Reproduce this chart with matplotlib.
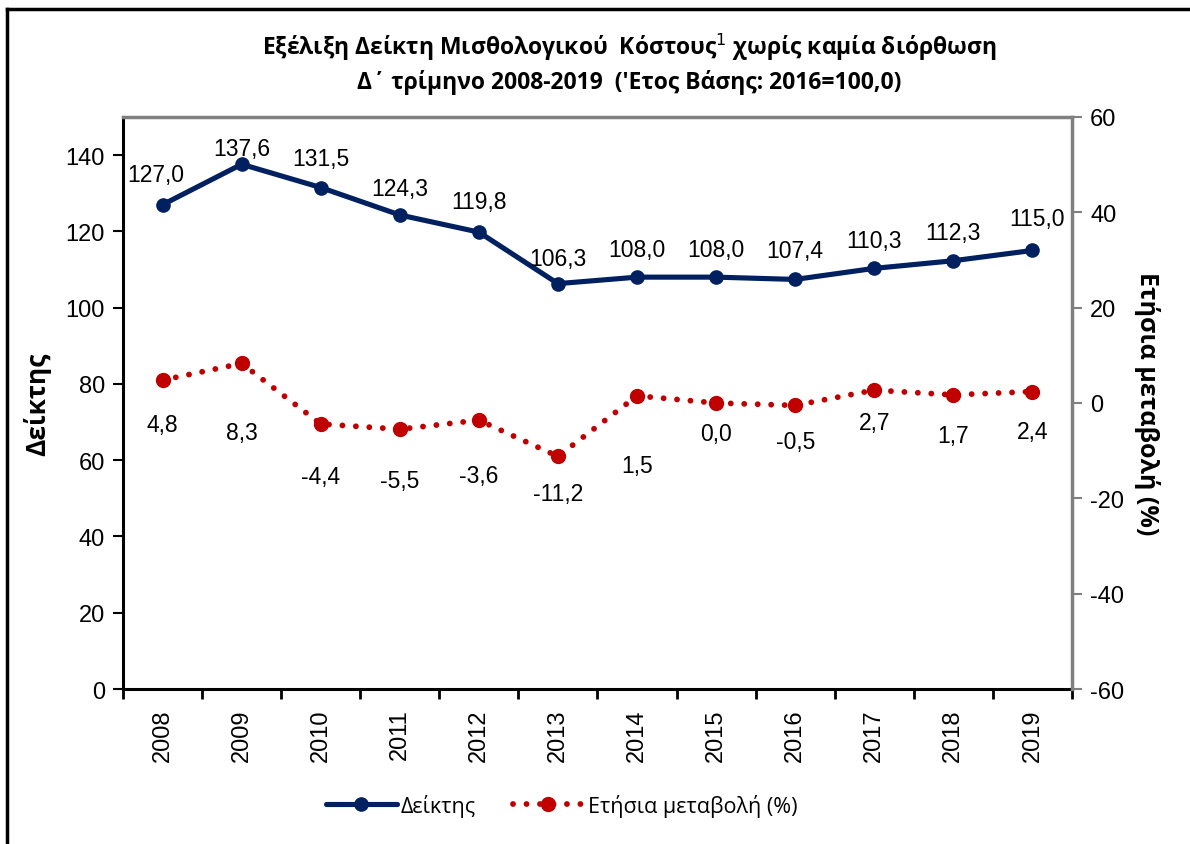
import matplotlib
matplotlib.use("Agg")
import matplotlib.pyplot as plt
from matplotlib.lines import Line2D
import numpy as np

plt.rcParams['font.family'] = ['Liberation Sans', 'DejaVu Sans']
plt.rcParams['axes.unicode_minus'] = False

# -----------------------------
# Data
# -----------------------------
years = ["2008", "2009", "2010", "2011", "2012", "2013",
         "2014", "2015", "2016", "2017", "2018", "2019"]
index_values = [127.0, 137.6, 131.5, 124.3, 119.8, 106.3,
                108.0, 108.0, 107.4, 110.3, 112.3, 115.0]
annual_change = [4.8, 8.3, -4.4, -5.5, -3.6, -11.2,
                 1.5, 0.0, -0.5, 2.7, 1.7, 2.4]

# label offsets (points) relative to each marker
change_label_dy = [-32, -50, -38, -37, -40, -27, -50, -22, -26, -23, -29, -29]
index_label_dy = [22, 11, 21, 19, 22, 18, 20, 20, 21, 20, 20, 23]
index_label_dx = [-5, 0, 0, 0, 0, 0, 0, 0, 0, 0, 0, 3]

navy = "#002060"
red = "#C00000"
title_font = ['Open Sans', 'DejaVu Sans']


def fmt(v):
    return f"{v:.1f}".replace(".", ",")


fig = plt.figure(figsize=(11.9, 8.45), dpi=100)
ax = fig.add_axes([0.1034, 0.1834, 0.7974, 0.677])
ax2 = ax.twinx()

x = np.arange(len(years))

ax.plot(x, index_values, color=navy, lw=3.7, marker="o", ms=9.5,
        solid_capstyle="round", zorder=3)
ax2.plot(x, annual_change, color=red, lw=4.2, linestyle=(0, (0.01, 2.3)),
         dash_capstyle="round", marker="o", ms=10, zorder=3)

for i, v in enumerate(index_values):
    ax.annotate(fmt(v), (x[i], v), xytext=(index_label_dx[i], index_label_dy[i]),
                textcoords="offset points", ha="center", va="center",
                fontsize=16.5)
for i, v in enumerate(annual_change):
    ax2.annotate(fmt(v), (x[i], v), xytext=(0, change_label_dy[i]),
                 textcoords="offset points", ha="center", va="center",
                 fontsize=16.5)

# axes ranges and ticks
ax.set_xlim(-0.5, len(years) - 0.5)
ax.set_ylim(0, 150)
ax.set_yticks(range(0, 141, 20))
ax2.set_ylim(-60, 60)
ax2.set_yticks(range(-60, 61, 20))

ax.set_xticks(x)
ax.set_xticklabels(years, rotation=90, fontsize=17)
ax.set_xticks(np.arange(-0.5, len(years), 1), minor=True)
ax.tick_params(axis="x", which="major", length=0, pad=14)
ax.tick_params(axis="x", which="minor", length=7, width=2, direction="out")
ax.tick_params(axis="y", labelsize=17, length=7, width=1.5, direction="out", pad=6)
ax2.tick_params(axis="y", labelsize=17, length=7, width=1.5, direction="out",
                color="#808080", pad=6)

for s in ["left", "bottom"]:
    ax.spines[s].set_linewidth(2.2)
    ax.spines[s].set_color("black")
for s in ["top", "right"]:
    ax.spines[s].set_visible(False)
ax2.spines["left"].set_visible(False)
ax2.spines["bottom"].set_visible(False)
ax2.spines["right"].set_color("#808080")
ax2.spines["right"].set_linewidth(2.5)
ax2.spines["top"].set_color("#808080")
ax2.spines["top"].set_linewidth(2.5)

ax.set_ylabel("Δείκτης", fontsize=19, fontweight="bold", family=title_font,
              labelpad=10)
ax2.set_ylabel("Ετήσια μεταβολή (%)", fontsize=18, fontweight="bold",
               family=title_font, rotation=270, labelpad=26)

# title
fig.text(0.529, 0.944, "Εξέλιξη Δείκτη Μισθολογικού  Κόστους$^{1}$ χωρίς καμία διόρθωση",
         ha="center", va="center", fontsize=16.5, fontweight="bold",
         family=title_font)
fig.text(0.529, 0.902, "Δ΄ τρίμηνο 2008-2019  ('Ετος Βάσης: 2016=100,0)",
         ha="center", va="center", fontsize=16.5, fontweight="bold",
         family=title_font)

# legend
handles = [
    Line2D([], [], color=navy, lw=3.7, marker="o", ms=9.5, solid_capstyle="round"),
    Line2D([], [], color=red, lw=4.2, linestyle=(0, (0.01, 2.3)),
           dash_capstyle="round", marker="o", ms=10),
]
fig.legend(handles, ["Δείκτης", "Ετήσια μεταβολή (%)"], loc="center",
           bbox_to_anchor=(0.472, 0.046), ncol=2, frameon=False,
           prop={"family": title_font, "size": 15.5}, handlelength=3.3,
           handletextpad=0.2, columnspacing=1.7)

# outer frame (top and left edges)
fig.add_artist(Line2D([0.006, 1.0], [0.988, 0.988], color="black", lw=2.5,
                      transform=fig.transFigure))
fig.add_artist(Line2D([0.006, 0.006], [0.0, 0.988], color="black", lw=2.5,
                      transform=fig.transFigure))

fig.savefig("out.png", dpi=100)
